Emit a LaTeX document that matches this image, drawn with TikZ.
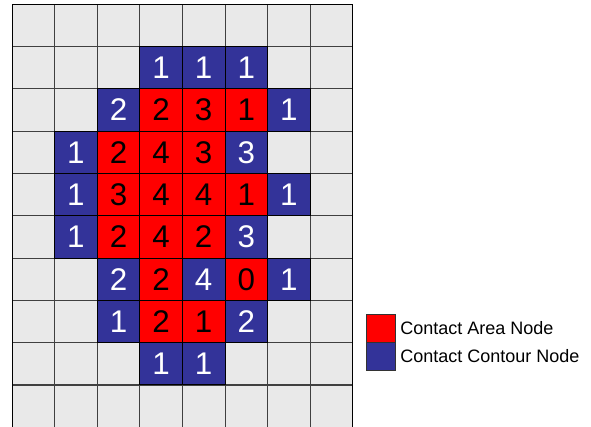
\documentclass[tikz,border=0pt]{standalone}
\usepackage{fontspec}
\setmainfont{Liberation Sans}
\usetikzlibrary{positioning}
\definecolor{cellgray}{RGB}{233,233,233}
\definecolor{areared}{RGB}{255,0,0}
\definecolor{contourblue}{RGB}{51,51,153}

\begin{document}
\begin{tikzpicture}[
  x=0.75pt, y=-0.75pt,
  cell/.style={draw=black!75, line width=0.75pt, minimum width=31.95pt, minimum height=31.7pt, inner sep=0pt, outer sep=0pt, font=\fontsize{23.5}{23.5}\selectfont},
  gridcell/.style={cell, fill=cellgray},
  areacell/.style={cell, draw=black, fill=areared, text=black},
  contourcell/.style={cell, draw=black, fill=contourblue, text=white},
  keybox/.style={draw=black!80, line width=0.75pt, minimum width=21.75pt, minimum height=21pt, inner sep=0pt, outer sep=0pt},
  keytext/.style={font=\fontsize{13.5}{13.5}\selectfont, inner sep=0pt}
]
\useasboundingbox (0,0) rectangle (591,426);

% background grid
\foreach \r in {0,...,9}
  \foreach \c in {0,...,7}
    \node[gridcell] (g-\r-\c) at ({12+42.6*(\c+0.5)},{4.3+42.3*(\r+0.5)}) {};
\draw[black, line width=0.75pt] (g-0-0.north west) rectangle (g-9-7.south east);

% contact nodes
\foreach \r/\c/\kind/\num in {
    1/3/contourcell/1, 1/4/contourcell/1, 1/5/contourcell/1,
    2/2/contourcell/2, 2/3/areacell/2, 2/4/areacell/3, 2/5/areacell/1, 2/6/contourcell/1,
    3/1/contourcell/1, 3/2/areacell/2, 3/3/areacell/4, 3/4/areacell/3, 3/5/contourcell/3,
    4/1/contourcell/1, 4/2/areacell/3, 4/3/areacell/4, 4/4/areacell/4, 4/5/areacell/1, 4/6/contourcell/1,
    5/1/contourcell/1, 5/2/areacell/2, 5/3/areacell/4, 5/4/areacell/2, 5/5/contourcell/3,
    6/2/contourcell/2, 6/3/areacell/2, 6/4/contourcell/4, 6/5/areacell/0, 6/6/contourcell/1,
    7/2/contourcell/1, 7/3/areacell/2, 7/4/areacell/1, 7/5/contourcell/2,
    8/3/contourcell/1, 8/4/contourcell/1}
  \node[\kind] (n-\r-\c) at (g-\r-\c) {\num};

% legend
\node[keybox, fill=areared] (keyarea) at (380.5,328) {};
\node[keybox, fill=contourblue, below=0pt of keyarea] (keycontour) {};
\node[keytext, right=3.75pt of keyarea] (keyarealabel) {Contact Area Node};
\node[keytext, right=3.75pt of keycontour] (keycontourlabel) {Contact Contour Node};
\end{tikzpicture}
\end{document}
